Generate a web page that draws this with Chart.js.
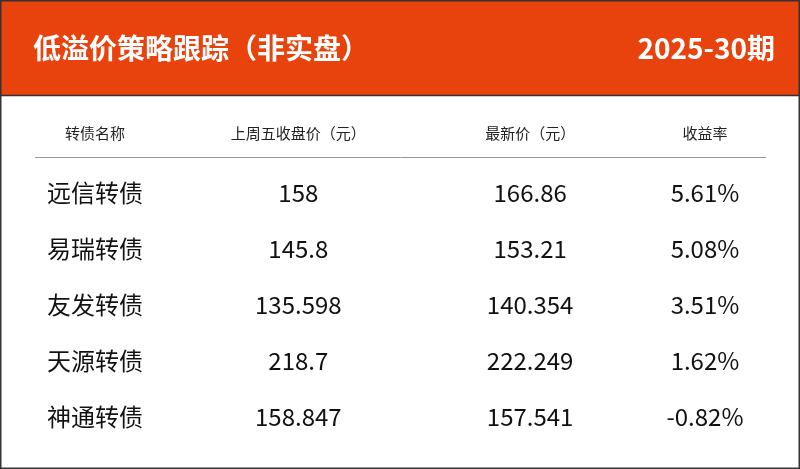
<!DOCTYPE html>
<html>
<head>
<meta charset="utf-8">
<script src="https://cdn.jsdelivr.net/npm/chart.js@4/dist/chart.umd.min.js"></script>
<style>
  html, body { margin: 0; padding: 0; background: #fff; }
  #wrap { width: 800px; height: 469px; position: relative; }
</style>
</head>
<body>
<div id="wrap"><canvas id="c"></canvas></div>
<script>
const title = '低溢价策略跟踪（非实盘）';
const issue = '2025-30期';
const headers = ['转债名称', '上周五收盘价（元）', '最新价（元）', '收益率'];
const bonds = ['远信转债', '易瑞转债', '友发转债', '天源转债', '神通转债'];
const lastFriday = ['158', '145.8', '135.598', '218.7', '158.847'];
const latest = ['166.86', '153.21', '140.354', '222.249', '157.541'];
const returns = ['5.61%', '5.08%', '3.51%', '1.62%', '-0.82%'];

const columns = [bonds, lastFriday, latest, returns];
const colX = [0, 1, 2.14, 3];
const FONT = '"Noto Sans CJK SC", "Noto Sans", sans-serif';

const datasets = columns.map((col, c) => ({
  label: headers[c],
  data: col.map((v, r) => ({ x: colX[c], y: r, text: v })),
  pointRadius: 0
}));

const tablePlugin = {
  id: 'table',
  beforeDraw(chart) {
    const ctx = chart.ctx, w = chart.width, h = chart.height;
    ctx.save();
    ctx.fillStyle = '#fff';
    ctx.fillRect(0, 0, w, h);
    ctx.fillStyle = '#e8430d';
    ctx.fillRect(0, 0, w, 95);
    ctx.strokeStyle = '#333';
    ctx.lineWidth = 1.5;
    ctx.strokeRect(0.75, 0.75, w - 1.5, h - 1.5);
    ctx.beginPath();
    ctx.moveTo(0, 95.5); ctx.lineTo(w, 95.5); ctx.stroke();
    ctx.fillStyle = '#fff';
    ctx.font = 'bold 28px ' + FONT;
    ctx.textBaseline = 'middle';
    ctx.textAlign = 'left';
    ctx.fillText(title, 33, 48);
    ctx.textAlign = 'right';
    ctx.fillText(issue, 775, 48);
    ctx.restore();
  },
  afterDatasetsDraw(chart) {
    const ctx = chart.ctx;
    const ys = chart.scales.y, xs = chart.scales.x;
    ctx.save();
    ctx.textAlign = 'center';
    ctx.textBaseline = 'middle';
    ctx.fillStyle = '#222';
    ctx.font = '15px ' + FONT;
    const hy = ys.getPixelForValue(-1) - 4;
    headers.forEach((t, c) => ctx.fillText(t, xs.getPixelForValue(colX[c]), hy));
    ctx.strokeStyle = '#999';
    ctx.lineWidth = 1;
    ctx.beginPath();
    ctx.moveTo(35, hy + 24.5); ctx.lineTo(766, hy + 24.5); ctx.stroke();
    ctx.fillStyle = '#111';
    ctx.font = '24px ' + FONT;
    chart.data.datasets.forEach((ds, i) => {
      chart.getDatasetMeta(i).data.forEach((pt, j) => {
        ctx.fillText(ds.data[j].text, pt.x, pt.y);
      });
    });
    ctx.restore();
  }
};

new Chart(document.getElementById('c'), {
  type: 'scatter',
  data: { datasets },
  options: {
    responsive: true,
    maintainAspectRatio: false,
    animation: false,
    layout: { padding: { left: 95, right: 95, top: 137, bottom: 52 } },
    scales: {
      x: { type: 'linear', min: 0, max: 3, display: false },
      y: { type: 'linear', min: -1, max: 4, reverse: true, display: false }
    },
    plugins: { legend: { display: false }, tooltip: { enabled: false } }
  },
  plugins: [tablePlugin]
});
</script>
</body>
</html>
